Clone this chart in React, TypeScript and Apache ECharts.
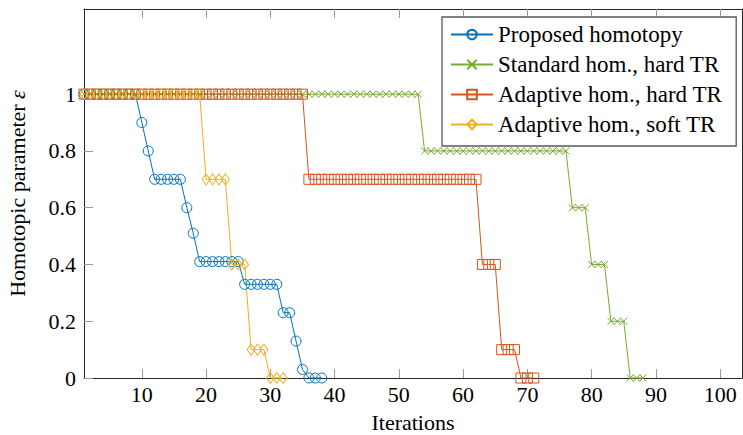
import React, { useEffect, useRef } from 'react';
import * as echarts from 'echarts';

const seriesNames = [
  'Proposed homotopy',
  'Standard hom., hard TR',
  'Adaptive hom., hard TR',
  'Adaptive hom., soft TR',
];

const xTicks = [10, 20, 30, 40, 50, 60, 70, 80, 90, 100];
const yTicks = [0, 0.2, 0.4, 0.6, 0.8, 1];

// values for iterations 1, 2, 3, ...
const proposed = [
  1, 1, 1, 1, 1, 1, 1, 1, 1,
  0.9, 0.8,
  0.7, 0.7, 0.7, 0.7, 0.7,
  0.6, 0.51,
  0.41, 0.41, 0.41, 0.41, 0.41, 0.41, 0.41,
  0.33, 0.33, 0.33, 0.33, 0.33, 0.33,
  0.23, 0.23, 0.13, 0.03,
  0, 0, 0,
];

const standardHard = [
  1, 1, 1, 1, 1, 1, 1, 1, 1, 1,
  1, 1, 1, 1, 1, 1, 1, 1, 1, 1,
  1, 1, 1, 1, 1, 1, 1, 1, 1, 1,
  1, 1, 1, 1, 1, 1, 1, 1, 1, 1,
  1, 1, 1, 1, 1, 1, 1, 1, 1, 1,
  1, 1, 1,
  0.8, 0.8, 0.8, 0.8, 0.8, 0.8, 0.8, 0.8, 0.8, 0.8,
  0.8, 0.8, 0.8, 0.8, 0.8, 0.8, 0.8, 0.8, 0.8, 0.8,
  0.8, 0.8, 0.8,
  0.6, 0.6, 0.6,
  0.4, 0.4, 0.4,
  0.2, 0.2, 0.2,
  0, 0, 0,
];

const adaptiveHard = [
  1, 1, 1, 1, 1, 1, 1, 1, 1, 1,
  1, 1, 1, 1, 1, 1, 1, 1, 1, 1,
  1, 1, 1, 1, 1, 1, 1, 1, 1, 1,
  1, 1, 1, 1, 1,
  0.7, 0.7, 0.7, 0.7, 0.7, 0.7, 0.7, 0.7, 0.7, 0.7,
  0.7, 0.7, 0.7, 0.7, 0.7, 0.7, 0.7, 0.7, 0.7, 0.7,
  0.7, 0.7, 0.7, 0.7, 0.7, 0.7, 0.7,
  0.4, 0.4, 0.4,
  0.1, 0.1, 0.1,
  0, 0, 0,
];

const adaptiveSoft = [
  1, 1, 1, 1, 1, 1, 1, 1, 1, 1,
  1, 1, 1, 1, 1, 1, 1, 1, 1,
  0.7, 0.7, 0.7, 0.7,
  0.4, 0.4, 0.4,
  0.1, 0.1, 0.1,
  0, 0, 0,
];

const FONT = 'Liberation Serif';
const TICK_GRAY = '#9a9a9a';
const AXIS_BLACK = '#262626';

const toPairs = (vals: number[]) => vals.map((v, i) => [i + 1, v]);

export default function App() {
  const ref = useRef<HTMLDivElement>(null);

  useEffect(() => {
    if (!ref.current) return;
    const chart = echarts.init(ref.current, undefined, { renderer: 'svg' });

    const mk = (
      name: string,
      vals: number[],
      color: string,
      symbol: string,
      symbolSize: number | number[]
    ) => ({
      name,
      type: 'line',
      data: toPairs(vals),
      symbol,
      symbolSize,
      showSymbol: true,
      showAllSymbol: true,
      clip: false,
      silent: true,
      lineStyle: { color, width: 1 },
      itemStyle: { color: 'rgba(255,255,255,0)', borderColor: color, borderWidth: 1 },
      emphasis: { disabled: true },
    });

    chart.setOption({
      animation: false,
      backgroundColor: '#ffffff',
      textStyle: { fontFamily: FONT },
      grid: { left: 84, right: 1, top: 9, bottom: 57, containLabel: false, outerBoundsMode: 'none' },
      legend: {
        orient: 'vertical',
        left: 442,
        top: 17,
        padding: [6, 14, 10, 8],
        itemWidth: 42,
        itemHeight: 12,
        itemGap: 7,
        backgroundColor: '#ffffff',
        borderColor: '#5a5a5a',
        borderWidth: 1.3,
        borderRadius: 0,
        selectedMode: false,
        textStyle: { fontFamily: FONT, fontSize: 23, color: '#000', lineHeight: 22 },
        data: seriesNames,
      },
      xAxis: [
        {
          type: 'value',
          min: 1,
          max: 103.4,
          position: 'bottom',
          name: 'Iterations',
          nameLocation: 'middle',
          nameGap: 33,
          nameTextStyle: { fontFamily: FONT, fontSize: 22, lineHeight: 22, color: '#000' },
          axisLine: { show: true, onZero: false, lineStyle: { color: AXIS_BLACK, width: 1 } },
          axisTick: { show: true, inside: true, length: 9, customValues: xTicks, lineStyle: { color: TICK_GRAY } },
          axisLabel: { customValues: xTicks, margin: 5, fontFamily: FONT, fontSize: 22, color: '#000' },
          splitLine: { show: false },
        },
        {
          type: 'value',
          min: 1,
          max: 103.4,
          position: 'top',
          axisLine: { show: true, onZero: false, lineStyle: { color: AXIS_BLACK, width: 1 } },
          axisTick: { show: true, inside: true, length: 9, customValues: xTicks, lineStyle: { color: TICK_GRAY } },
          axisLabel: { show: false },
          splitLine: { show: false },
        },
      ],
      yAxis: [
        {
          type: 'value',
          min: 0,
          max: 1.3,
          position: 'left',
          name: '{a|Homotopic parameter }{b|ε}',
          nameLocation: 'middle',
          nameGap: 56,
          nameTextStyle: {
            fontFamily: FONT,
            fontSize: 22,
            color: '#000',
            rich: {
              a: { fontFamily: FONT, fontSize: 22, color: '#000' },
              b: { fontFamily: FONT, fontSize: 22, color: '#000', fontStyle: 'italic' },
            },
          },
          axisLine: { show: true, onZero: false, lineStyle: { color: AXIS_BLACK, width: 1 } },
          axisTick: { show: true, inside: true, length: 9, customValues: yTicks, lineStyle: { color: TICK_GRAY } },
          axisLabel: { customValues: yTicks, margin: 8, fontFamily: FONT, fontSize: 22, color: '#000' },
          splitLine: { show: false },
        },
        {
          type: 'value',
          min: 0,
          max: 1.3,
          position: 'right',
          axisLine: { show: true, onZero: false, lineStyle: { color: AXIS_BLACK, width: 1 } },
          axisTick: { show: false },
          axisLabel: { show: false },
          splitLine: { show: false },
        },
      ],
      series: [
        mk(seriesNames[0], proposed, '#0072BD', 'circle', 10),
        mk(seriesNames[1], standardHard, '#77AC30', 'path://M0,0L10,10M10,0L0,10', 7),
        mk(seriesNames[2], adaptiveHard, '#D95319', 'rect', 10),
        mk(seriesNames[3], adaptiveSoft, '#EDB120', 'diamond', [8, 11]),
      ],
    });

    return () => {
      chart.dispose();
    };
  }, []);

  return (
    <div
      ref={ref}
      style={{ position: 'fixed', left: 0, top: 0, width: 743, height: 435, background: '#fff' }}
    />
  );
}
